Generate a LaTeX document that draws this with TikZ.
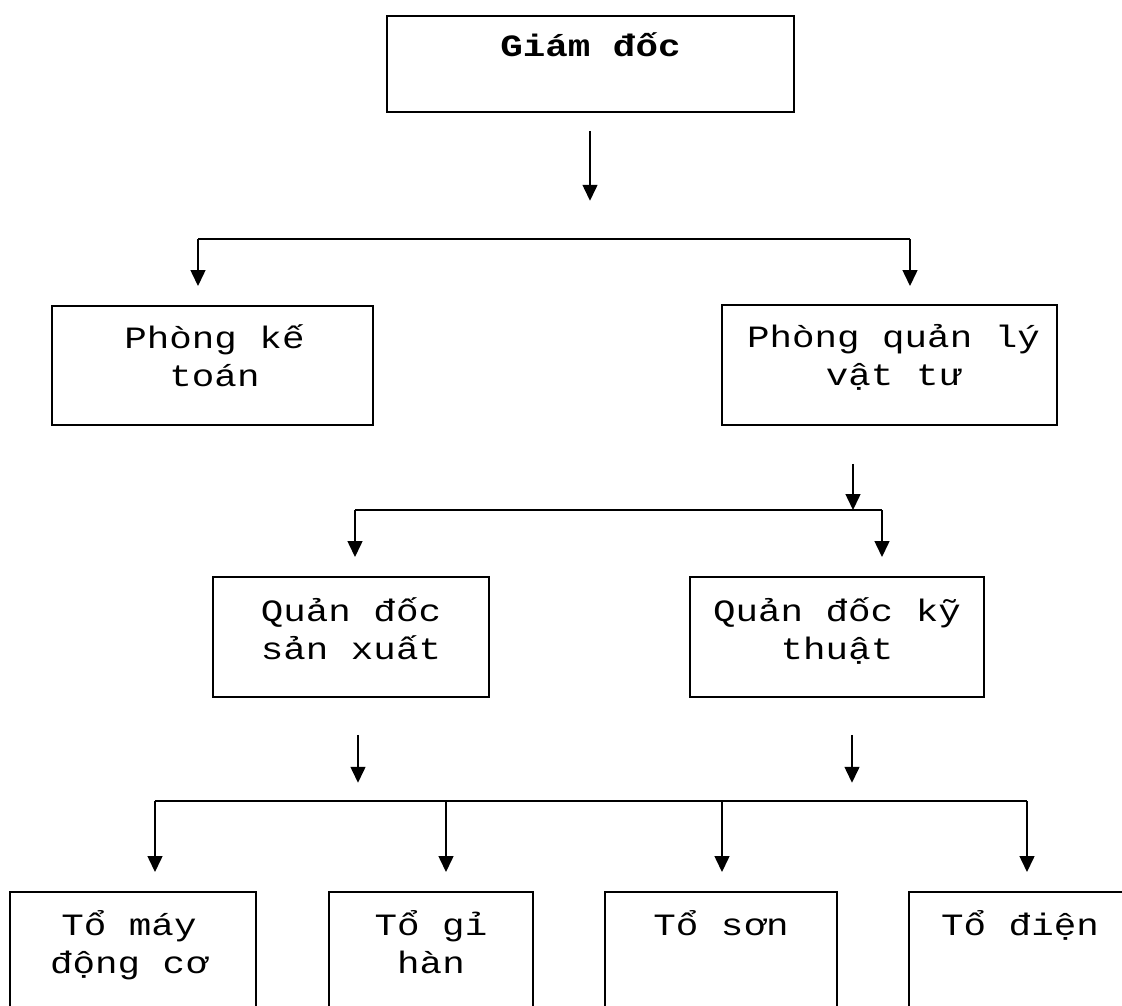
\documentclass[tikz,border=0pt]{standalone}
\usepackage{fontspec}
\setmainfont{Liberation Mono}[FakeStretch=1.21]
\usetikzlibrary{arrows.meta}
\begin{document}
\begin{tikzpicture}[x=1pt,y=-1pt,
  box/.style={draw, line width=1.5pt, inner sep=0pt},
  txt/.style={anchor=base, align=center, inner sep=0pt, font=\fontsize{31}{38.5}\selectfont},
  arr/.style={line width=1.5pt, -{Triangle[width=15pt,length=16pt]}},
  ln/.style={line width=1.5pt}]
\useasboundingbox (0,0) rectangle (1122,1005);
\clip (0,0) rectangle (1122,1005);
\fill[white] (0,0) rectangle (1122,1005);
% boxes
\node[box, minimum width=407pt, minimum height=96pt,
  label={[txt, yshift=-41pt]north:{\bfseries Giám đốc}}] (gd) at (590.5,64) {};
\node[box, minimum width=321pt, minimum height=119pt,
  label={[txt, yshift=-81.5pt, xshift=2pt]north:{Phòng kế\\toán}}] (pkt) at (212.5,365.5) {};
\node[box, minimum width=335pt, minimum height=120pt,
  label={[txt, yshift=-81.5pt, xshift=4pt]north:{Phòng quản lý\\vật tư}}] (pql) at (889.5,365) {};
\node[box, minimum width=276pt, minimum height=120pt,
  label={[txt, yshift=-83.5pt]north:{Quản đốc\\sản xuất}}] (qsx) at (351,637) {};
\node[box, minimum width=294pt, minimum height=120pt,
  label={[txt, yshift=-83.5pt]north:{Quản đốc kỹ\\thuật}}] (qkt) at (837,637) {};
\node[box, minimum width=246pt, minimum height=200pt,
  label={[txt, yshift=-82.5pt, xshift=-4pt]north:{Tổ máy\\động cơ}}] (t1) at (133,992) {};
\node[box, minimum width=204pt, minimum height=200pt,
  label={[txt, yshift=-82.5pt]north:{Tổ gỉ\\hàn}}] (t2) at (431,992) {};
\node[box, minimum width=232pt, minimum height=200pt,
  label={[txt, yshift=-44pt]north:{Tổ sơn}}] (t3) at (721,992) {};
\node[box, minimum width=222pt, minimum height=200pt,
  label={[txt, yshift=-44pt]north:{Tổ điện}}] (t4) at (1020,992) {};
% level 1
\draw[arr] ([yshift=-18pt]gd.south -| 590,0) -- ++(0,70);
\coordinate (h1l) at (198,239);
\coordinate (h1r) at (910,239);
\draw[ln] (h1l) -- (h1r);
\draw[arr] (h1l) -- (h1l |- 0,286);
\draw[arr] (h1r) -- (h1r |- 0,286);
% level 2
\coordinate (h2l) at (355,510);
\coordinate (h2r) at (882,510);
\draw[arr] ([yshift=-38pt]pql.south -| 853,0) -- (853,510);
\draw[ln] (h2l) -- (h2r);
\draw[arr] (h2l) -- (h2l |- 0,557);
\draw[arr] (h2r) -- (h2r |- 0,557);
% level 3
\draw[arr] ([yshift=-37pt]qsx.south -| 358,0) -- ++(0,48);
\draw[arr] ([yshift=-37pt]qkt.south -| 852,0) -- ++(0,48);
\coordinate (h3a) at (155,801);
\coordinate (h3b) at (446,801);
\coordinate (h3c) at (722,801);
\coordinate (h3d) at (1027,801);
\draw[ln] (h3a) -- (h3d);
\foreach \c in {h3a,h3b,h3c,h3d} \draw[arr] (\c) -- (\c |- 0,872);
\end{tikzpicture}
\end{document}
